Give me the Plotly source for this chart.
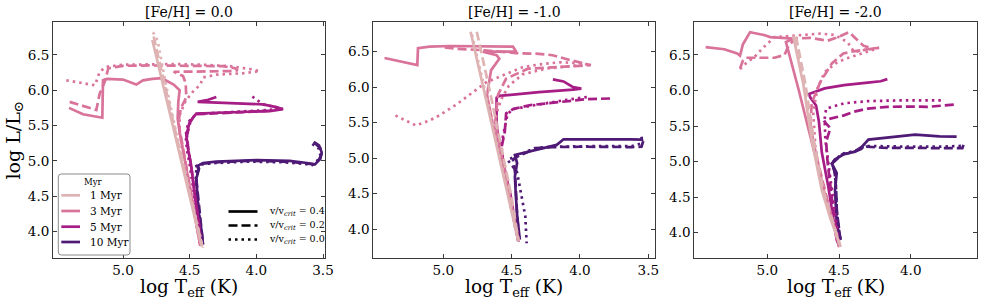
import plotly.graph_objects as go

W, H = 983, 303

# ---------------- categories / styles ----------------
AGES = ["1 Myr", "3 Myr", "5 Myr", "10 Myr"]
AGE_COLORS = ["#dfb3b3", "#d9739a", "#a51d85", "#4e1a76"]
ROTATIONS = ["0.4", "0.2", "0.0"]
FEH_TITLES = ["[Fe/H] = 0.0", "[Fe/H] = -1.0", "[Fe/H] = -2.0"]
X_TICKS = [5.0, 4.5, 4.0, 3.5]
Y_TICKS = [4.0, 4.5, 5.0, 5.5, 6.0, 6.5]

# ---------------- data: [Fe/H] = 0.0 ----------------
teff_fe00_1_v04 = [4.78, 4.70, 4.60, 4.56, 4.50, 4.41]
logl_fe00_1_v04 = [6.71, 6.08, 5.30, 5.00, 4.50, 3.79]
teff_fe00_1_v02 = [4.77, 4.69, 4.595, 4.555, 4.495, 4.405]
logl_fe00_1_v02 = [6.76, 6.10, 5.30, 5.00, 4.50, 3.79]
teff_fe00_1_v00 = [4.775, 4.74, 4.68, 4.59, 4.55, 4.49, 4.40]
logl_fe00_1_v00 = [6.82, 6.70, 6.10, 5.30, 5.00, 4.48, 3.77]

teff_fe00_3_v04 = [5.405, 5.30, 5.155, 5.15, 5.15, 5.118, 5.00, 4.90, 4.85, 4.78, 4.71, 4.62, 4.575, 4.585, 4.59, 4.575, 4.555, 4.535, 4.485, 4.45, 4.42]
logl_fe00_3_v04 = [5.75, 5.66, 5.61, 5.90, 6.14, 6.16, 6.15, 6.08, 6.14, 6.16, 6.17, 6.08, 6.00, 5.84, 5.60, 5.40, 5.20, 5.00, 4.50, 4.10, 3.80]
teff_fe00_3_v02 = [5.40, 5.30, 5.20, 5.175, 5.137, 5.11, 5.00, 4.80, 4.60, 4.40, 4.25, 4.16, 4.14, 4.20, 4.35, 4.50, 4.62, 4.55, 4.53, 4.525, 4.565, 4.585, 4.57, 4.555, 4.535, 4.485, 4.45, 4.42]
logl_fe00_3_v02 = [5.835, 5.78, 5.72, 5.95, 6.12, 6.31, 6.345, 6.35, 6.35, 6.35, 6.34, 6.31, 6.28, 6.27, 6.27, 6.27, 6.26, 6.20, 6.10, 5.90, 5.75, 5.55, 5.40, 5.20, 5.00, 4.50, 4.10, 3.80]
teff_fe00_3_v00 = [5.425, 5.30, 5.21, 5.175, 5.13, 5.00, 4.80, 4.60, 4.40, 4.20, 4.05, 3.975, 4.10, 4.30, 4.40, 4.42, 4.475, 4.53, 4.575, 4.575, 4.555, 4.535, 4.485, 4.45, 4.42]
logl_fe00_3_v00 = [6.14, 6.10, 6.07, 6.26, 6.33, 6.36, 6.37, 6.37, 6.36, 6.34, 6.30, 6.27, 6.24, 6.22, 6.18, 6.08, 5.98, 5.85, 5.65, 5.40, 5.20, 5.00, 4.50, 4.10, 3.80]

teff_fe00_5_v04 = [4.30, 4.36, 4.44, 4.30, 4.10, 3.95, 3.85, 3.80, 3.90, 4.10, 4.30, 4.45, 4.50, 4.525, 4.51, 4.49, 4.46, 4.43, 4.415]
logl_fe00_5_v04 = [5.905, 5.865, 5.835, 5.825, 5.815, 5.80, 5.76, 5.73, 5.705, 5.69, 5.68, 5.67, 5.55, 5.36, 5.15, 4.95, 4.50, 4.10, 3.80]
teff_fe00_5_v02 = [3.80, 3.90, 4.10, 4.30, 4.46, 4.495, 4.52, 4.51, 4.49, 4.46, 4.43, 4.415]
logl_fe00_5_v02 = [5.74, 5.71, 5.69, 5.675, 5.66, 5.55, 5.36, 5.15, 4.95, 4.50, 4.10, 3.80]
teff_fe00_5_v00 = [4.03, 3.95, 3.82, 3.90, 4.10, 4.30, 4.45, 4.51, 4.53, 4.52, 4.50, 4.465, 4.435, 4.415]
logl_fe00_5_v00 = [5.91, 5.80, 5.745, 5.72, 5.70, 5.68, 5.665, 5.55, 5.36, 5.15, 4.95, 4.50, 4.10, 3.80]

teff_fe00_10_v04 = [3.57, 3.53, 3.51, 3.52, 3.56, 3.62, 3.75, 4.00, 4.30, 4.40, 4.44, 4.43, 4.45, 4.445, 4.435, 4.41, 4.40]
logl_fe00_10_v04 = [5.27, 5.22, 5.12, 5.03, 4.95, 4.97, 5.00, 5.01, 4.99, 4.97, 4.93, 4.89, 4.75, 4.55, 4.30, 4.00, 3.82]
teff_fe00_10_v02 = [3.56, 3.52, 3.51, 3.53, 3.57, 3.65, 3.80, 4.05, 4.30, 4.40, 4.44, 4.435, 4.45, 4.44, 4.43, 4.41, 4.40]
logl_fe00_10_v02 = [5.25, 5.18, 5.10, 5.02, 4.95, 4.97, 4.99, 5.00, 4.98, 4.96, 4.92, 4.88, 4.74, 4.55, 4.30, 4.00, 3.82]
teff_fe00_10_v00 = [3.58, 3.53, 3.52, 3.54, 3.58, 3.65, 3.80, 4.05, 4.30, 4.42, 4.46, 4.45, 4.455, 4.445, 4.43, 4.415, 4.405]
logl_fe00_10_v00 = [5.24, 5.17, 5.08, 5.01, 4.94, 4.96, 4.98, 4.99, 4.97, 4.95, 4.92, 4.87, 4.72, 4.52, 4.28, 4.00, 3.82]

# ---------------- data: [Fe/H] = -1.0 ----------------
teff_fe10_1_v04 = [4.80, 4.70, 4.59, 4.52, 4.45]
logl_fe10_1_v04 = [6.78, 5.93, 5.00, 4.41, 3.82]
teff_fe10_1_v02 = [4.755, 4.66, 4.57, 4.50, 4.45]
logl_fe10_1_v02 = [6.78, 5.95, 5.10, 4.45, 3.83]
teff_fe10_1_v00 = [4.79, 4.69, 4.585, 4.515, 4.445]
logl_fe10_1_v00 = [6.74, 5.92, 5.00, 4.40, 3.80]

teff_fe10_3_v04 = [5.43, 5.30, 5.19, 5.185, 5.10, 4.95, 4.80, 4.60, 4.49, 4.466, 4.55, 4.71, 4.61, 4.59, 4.65, 4.67, 4.68, 4.64, 4.57, 4.52, 4.45]
logl_fe10_3_v04 = [6.41, 6.36, 6.31, 6.55, 6.57, 6.58, 6.58, 6.58, 6.57, 6.50, 6.50, 6.50, 6.45, 6.40, 6.24, 6.03, 5.89, 5.50, 5.00, 4.50, 3.83]
teff_fe10_3_v02 = [4.99, 4.90, 4.70, 4.47, 4.30, 4.20, 4.07, 3.95, 3.92, 4.00, 4.20, 4.38, 4.54, 4.60, 4.62, 4.57, 4.52, 4.45]
logl_fe10_3_v02 = [6.56, 6.54, 6.52, 6.48, 6.47, 6.45, 6.38, 6.33, 6.31, 6.30, 6.28, 6.26, 6.12, 5.89, 5.50, 5.00, 4.50, 3.83]
teff_fe10_3_v00 = [5.35, 5.28, 5.20, 5.10, 5.03, 4.90, 4.78, 4.685, 4.56, 4.42, 4.30, 4.15, 4.00, 3.95, 4.05, 4.25, 4.42, 4.52, 4.57, 4.60, 4.62, 4.565, 4.515, 4.445]
logl_fe10_3_v00 = [5.60, 5.53, 5.46, 5.53, 5.60, 5.76, 5.93, 6.07, 6.17, 6.28, 6.32, 6.35, 6.34, 6.32, 6.30, 6.26, 6.18, 6.02, 5.85, 5.70, 5.50, 5.00, 4.50, 3.82]

teff_fe10_5_v04 = [4.198, 4.12, 4.05, 3.99, 4.05, 4.30, 4.59, 4.61, 4.61, 4.60, 4.59, 4.56, 4.51, 4.45]
logl_fe10_5_v04 = [6.11, 6.08, 6.00, 5.98, 5.965, 5.93, 5.876, 5.85, 5.51, 5.26, 5.09, 4.90, 4.50, 3.82]
teff_fe10_5_v02 = [3.78, 3.90, 3.954, 4.05, 4.20, 4.37, 4.49, 4.54, 4.55, 4.576, 4.56, 4.52, 4.45]
logl_fe10_5_v02 = [5.84, 5.83, 5.83, 5.81, 5.78, 5.745, 5.69, 5.63, 5.37, 5.13, 4.95, 4.50, 3.82]
teff_fe10_5_v00 = [3.95, 4.10, 4.35, 4.49, 4.53, 4.55, 4.575, 4.565, 4.525, 4.45]
logl_fe10_5_v00 = [5.86, 5.82, 5.74, 5.69, 5.62, 5.45, 5.20, 4.98, 4.50, 3.80]

teff_fe10_10_v04 = [3.55, 3.547, 3.63, 3.90, 4.12, 4.17, 4.366, 4.476, 4.46, 4.476, 4.47, 4.46, 4.44]
logl_fe10_10_v04 = [5.30, 5.26, 5.265, 5.265, 5.265, 5.186, 5.09, 5.045, 4.93, 4.74, 4.50, 4.20, 3.85]
teff_fe10_10_v02 = [3.537, 3.55, 3.62, 3.80, 4.00, 4.20, 4.317, 4.46, 4.49, 4.475, 4.47, 4.46, 4.445]
logl_fe10_10_v02 = [5.24, 5.16, 5.155, 5.16, 5.16, 5.155, 5.14, 5.02, 4.98, 4.80, 4.50, 4.20, 3.84]
teff_fe10_10_v00 = [3.56, 3.62, 3.80, 4.00, 4.20, 4.33, 4.47, 4.53, 4.46, 4.44, 4.42, 4.40, 4.39]
logl_fe10_10_v00 = [5.20, 5.17, 5.17, 5.17, 5.16, 5.14, 5.03, 4.975, 4.80, 4.60, 4.40, 4.18, 3.80]

# ---------------- data: [Fe/H] = -2.0 ----------------
teff_fe20_1_v04 = [4.82, 4.75, 4.69, 4.62, 4.56, 4.49]
logl_fe20_1_v04 = [6.77, 6.10, 5.30, 4.60, 4.20, 3.81]
teff_fe20_1_v02 = [4.80, 4.735, 4.675, 4.61, 4.55, 4.49]
logl_fe20_1_v02 = [6.76, 6.10, 5.30, 4.60, 4.20, 3.80]
teff_fe20_1_v00 = [4.81, 4.745, 4.685, 4.615, 4.555, 4.49]
logl_fe20_1_v00 = [6.74, 6.08, 5.30, 4.60, 4.20, 3.80]

teff_fe20_3_v04 = [5.43, 5.30, 5.21, 5.19, 5.17, 5.12, 5.023, 4.98, 4.814, 4.87, 4.78, 4.68, 4.60, 4.52, 4.50]
logl_fe20_3_v04 = [6.61, 6.58, 6.52, 6.49, 6.65, 6.82, 6.78, 6.75, 6.73, 6.68, 6.00, 5.17, 4.55, 4.00, 3.82]
teff_fe20_3_v02 = [5.19, 5.17, 5.15, 5.05, 4.95, 4.88, 4.85, 4.80, 4.70, 4.58, 4.52, 4.43, 4.38, 4.33, 4.27, 4.22, 4.30, 4.40, 4.47, 4.55, 4.63, 4.69, 4.70, 4.66, 4.60, 4.55, 4.50]
logl_fe20_3_v02 = [6.31, 6.42, 6.46, 6.46, 6.46, 6.50, 6.64, 6.73, 6.74, 6.70, 6.74, 6.82, 6.72, 6.63, 6.59, 6.60, 6.58, 6.55, 6.52, 6.38, 6.12, 5.83, 5.50, 5.10, 4.60, 4.20, 3.80]
teff_fe20_3_v00 = [5.19, 5.15, 5.09, 5.03, 4.95, 4.81, 4.63, 4.53, 4.44, 4.395, 4.30, 4.25, 4.35, 4.45, 4.51, 4.60, 4.65, 4.68, 4.665, 4.61, 4.55, 4.495]
logl_fe20_3_v00 = [6.30, 6.38, 6.47, 6.60, 6.75, 6.77, 6.80, 6.78, 6.68, 6.54, 6.58, 6.58, 6.52, 6.45, 6.40, 6.26, 6.03, 5.70, 5.20, 4.60, 4.20, 3.80]

teff_fe20_5_v04 = [4.163, 4.21, 4.30, 4.465, 4.60, 4.674, 4.71, 4.70, 4.66, 4.64, 4.62, 4.575, 4.516, 4.50]
logl_fe20_5_v04 = [6.16, 6.13, 6.11, 6.075, 6.03, 5.98, 5.95, 5.90, 5.79, 5.56, 5.13, 4.65, 3.90, 3.82]
teff_fe20_5_v02 = [3.70, 3.884, 4.00, 4.163, 4.30, 4.40, 4.465, 4.57, 4.60, 4.56, 4.59, 4.58, 4.545, 4.50]
logl_fe20_5_v02 = [5.80, 5.77, 5.775, 5.77, 5.745, 5.70, 5.65, 5.60, 5.56, 5.47, 5.28, 5.00, 4.40, 3.81]
teff_fe20_5_v00 = [3.79, 4.00, 4.10, 4.30, 4.465, 4.59, 4.60, 4.595, 4.57, 4.53, 4.495]
logl_fe20_5_v00 = [5.86, 5.865, 5.86, 5.85, 5.82, 5.745, 5.60, 5.30, 4.90, 4.30, 3.80]

teff_fe20_10_v04 = [3.68, 3.80, 3.97, 4.11, 4.295, 4.34, 4.39, 4.47, 4.53, 4.55, 4.516, 4.528, 4.516, 4.49]
logl_fe20_10_v04 = [5.35, 5.355, 5.38, 5.35, 5.31, 5.21, 5.14, 5.10, 5.03, 4.97, 4.84, 4.60, 4.13, 3.90]
teff_fe20_10_v02 = [3.632, 3.64, 3.80, 4.00, 4.20, 4.31, 4.39, 4.48, 4.55, 4.53, 4.52, 4.515, 4.50, 4.49]
logl_fe20_10_v02 = [5.236, 5.19, 5.19, 5.19, 5.195, 5.21, 5.14, 5.10, 4.97, 4.85, 4.60, 4.30, 4.05, 3.90]
teff_fe20_10_v00 = [3.65, 3.80, 4.00, 4.20, 4.31, 4.39, 4.48, 4.55, 4.53, 4.52, 4.515, 4.50, 4.49]
logl_fe20_10_v00 = [5.22, 5.21, 5.21, 5.21, 5.22, 5.15, 5.11, 4.98, 4.86, 4.60, 4.30, 4.05, 3.90]

TRACKS = {
    0: {
        0: [(teff_fe00_1_v04, logl_fe00_1_v04), (teff_fe00_1_v02, logl_fe00_1_v02), (teff_fe00_1_v00, logl_fe00_1_v00)],
        1: [(teff_fe00_3_v04, logl_fe00_3_v04), (teff_fe00_3_v02, logl_fe00_3_v02), (teff_fe00_3_v00, logl_fe00_3_v00)],
        2: [(teff_fe00_5_v04, logl_fe00_5_v04), (teff_fe00_5_v02, logl_fe00_5_v02), (teff_fe00_5_v00, logl_fe00_5_v00)],
        3: [(teff_fe00_10_v04, logl_fe00_10_v04), (teff_fe00_10_v02, logl_fe00_10_v02), (teff_fe00_10_v00, logl_fe00_10_v00)],
    },
    1: {
        0: [(teff_fe10_1_v04, logl_fe10_1_v04), (teff_fe10_1_v02, logl_fe10_1_v02), (teff_fe10_1_v00, logl_fe10_1_v00)],
        1: [(teff_fe10_3_v04, logl_fe10_3_v04), (teff_fe10_3_v02, logl_fe10_3_v02), (teff_fe10_3_v00, logl_fe10_3_v00)],
        2: [(teff_fe10_5_v04, logl_fe10_5_v04), (teff_fe10_5_v02, logl_fe10_5_v02), (teff_fe10_5_v00, logl_fe10_5_v00)],
        3: [(teff_fe10_10_v04, logl_fe10_10_v04), (teff_fe10_10_v02, logl_fe10_10_v02), (teff_fe10_10_v00, logl_fe10_10_v00)],
    },
    2: {
        0: [(teff_fe20_1_v04, logl_fe20_1_v04), (teff_fe20_1_v02, logl_fe20_1_v02), (teff_fe20_1_v00, logl_fe20_1_v00)],
        1: [(teff_fe20_3_v04, logl_fe20_3_v04), (teff_fe20_3_v02, logl_fe20_3_v02), (teff_fe20_3_v00, logl_fe20_3_v00)],
        2: [(teff_fe20_5_v04, logl_fe20_5_v04), (teff_fe20_5_v02, logl_fe20_5_v02), (teff_fe20_5_v00, logl_fe20_5_v00)],
        3: [(teff_fe20_10_v04, logl_fe20_10_v04), (teff_fe20_10_v02, logl_fe20_10_v02), (teff_fe20_10_v00, logl_fe20_10_v00)],
    },
}

# ---------------- layout geometry (pixels) ----------------
PANEL_X_PX = [(53, 325), (373.3, 655), (694.3, 976.7)]
PANEL_Y_PX = (22, 257.7)
X_RANGES = [(5.525, 3.485), (5.512, 3.451), (5.509, 3.54)]
Y_RANGES = [(3.63, 6.965), (3.596, 6.918), (3.649, 6.963)]
ROT_DASH = ["solid", "9px,4px", "2.5px,4px"]
LW = 2.7
FONT = "DejaVu Serif"
AXIS_COL = "#3a3a3a"


def px(x):
    return x / W


def py(y):
    return 1 - y / H


fig = go.Figure()

for p in range(3):
    xa = "x" if p == 0 else f"x{p+1}"
    ya = "y" if p == 0 else f"y{p+1}"
    for a in [3, 2, 1, 0]:
        for r in range(3):
            tx, ly = TRACKS[p][a][r]
            fig.add_trace(go.Scatter(
                x=tx, y=ly, mode="lines", xaxis=xa, yaxis=ya,
                line=dict(color=AGE_COLORS[a], width=LW, dash=ROT_DASH[r]),
                name=f"{AGES[a]}, v/vcrit = {ROTATIONS[r]}",
                showlegend=False, hoverinfo="skip",
            ))

layout = dict(
    width=W, height=H,
    margin=dict(l=0, r=0, t=0, b=0),
    paper_bgcolor="white", plot_bgcolor="white",
    font=dict(family=FONT, color="black"),
    showlegend=False,
)

annotations = []
shapes = []
for p in range(3):
    sx = "" if p == 0 else str(p + 1)
    x0, x1 = PANEL_X_PX[p]
    axis_common = dict(
        showline=True, linecolor=AXIS_COL, linewidth=1, mirror="ticks",
        ticks="inside", ticklen=4, tickwidth=1, tickcolor=AXIS_COL,
        showgrid=False, zeroline=False, automargin=False,
        tickfont=dict(size=13.5, family=FONT, color="black"),
    )
    layout[f"xaxis{sx}"] = dict(
        domain=[px(x0), px(x1)], range=list(X_RANGES[p]),
        tickvals=X_TICKS, ticktext=[f"{v:.1f}" for v in X_TICKS],
        anchor=f"y{sx}", **axis_common,
    )
    layout[f"yaxis{sx}"] = dict(
        domain=[py(PANEL_Y_PX[1]), py(PANEL_Y_PX[0])], range=list(Y_RANGES[p]),
        tickvals=Y_TICKS, ticktext=[f"{v:.1f}" for v in Y_TICKS],
        anchor=f"x{sx}", **axis_common,
    )
    cx = px((x0 + x1) / 2)
    annotations.append(dict(
        text=FEH_TITLES[p], x=cx, y=py(12), xref="paper", yref="paper",
        xanchor="center", yanchor="middle", showarrow=False,
        font=dict(size=14, family=FONT),
    ))
    annotations.append(dict(
        text="log T<sub>eff</sub> (K)", x=cx, y=py(287.5), xref="paper", yref="paper",
        xanchor="center", yanchor="middle", showarrow=False,
        font=dict(size=18.5, family=FONT),
    ))

annotations.append(dict(
    text="log L/L<sub>⊙</sub>", x=px(13.5), y=py(140), xref="paper", yref="paper",
    xanchor="center", yanchor="middle", showarrow=False, textangle=-90,
    font=dict(size=19, family=FONT),
))

# ---- age legend (boxed, rounded corners) ----
bx0, bx1, by0, by1 = px(58.3), px(130), py(174), py(255)
rx, ry = 3 / W, 3 / H
shapes.append(dict(
    type="path", xref="paper", yref="paper",
    path=(f"M{bx0+rx},{by0} L{bx1-rx},{by0} Q{bx1},{by0} {bx1},{by0-ry} "
          f"L{bx1},{by1+ry} Q{bx1},{by1} {bx1-rx},{by1} L{bx0+rx},{by1} "
          f"Q{bx0},{by1} {bx0},{by1+ry} L{bx0},{by0-ry} Q{bx0},{by0} {bx0+rx},{by0} Z"),
    line=dict(color="#8a8a8a", width=1), fillcolor="white", layer="above",
))
annotations.append(dict(
    text="Myr", x=px(93.5), y=py(182), xref="paper", yref="paper",
    xanchor="center", yanchor="middle", showarrow=False,
    font=dict(size=8.5, family=FONT),
))
AGE_ROW_Y = [195.3, 211, 226.7, 242]
for a in range(4):
    shapes.append(dict(
        type="line", xref="paper", yref="paper",
        x0=px(61.3), x1=px(80), y0=py(AGE_ROW_Y[a]), y1=py(AGE_ROW_Y[a]),
        line=dict(color=AGE_COLORS[a], width=LW), layer="above",
    ))
    annotations.append(dict(
        text=AGES[a], x=px(88), y=py(AGE_ROW_Y[a]), xref="paper", yref="paper",
        xanchor="left", yanchor="middle", showarrow=False,
        font=dict(size=10.5, family=FONT),
    ))

# ---- rotation legend (no box) ----
ROT_ROW_Y = [211.5, 225.5, 239.5]
for r in range(3):
    shapes.append(dict(
        type="line", xref="paper", yref="paper",
        x0=px(228.5), x1=px(257.5), y0=py(ROT_ROW_Y[r]), y1=py(ROT_ROW_Y[r]),
        line=dict(color="black", width=LW, dash=ROT_DASH[r]), layer="above",
    ))
    annotations.append(dict(
        text=f"v/v<sub><i>crit</i></sub> = {ROTATIONS[r]}", x=px(267), y=py(ROT_ROW_Y[r]),
        xref="paper", yref="paper", xanchor="left", yanchor="middle", showarrow=False,
        font=dict(size=9.5, family=FONT),
    ))

layout["annotations"] = annotations
layout["shapes"] = shapes

fig.update_layout(**layout)
fig.write_html(
    "out.html",
    config={"displayModeBar": False},
    post_script="document.body.style.margin='0px';document.body.style.overflow='hidden';",
)
